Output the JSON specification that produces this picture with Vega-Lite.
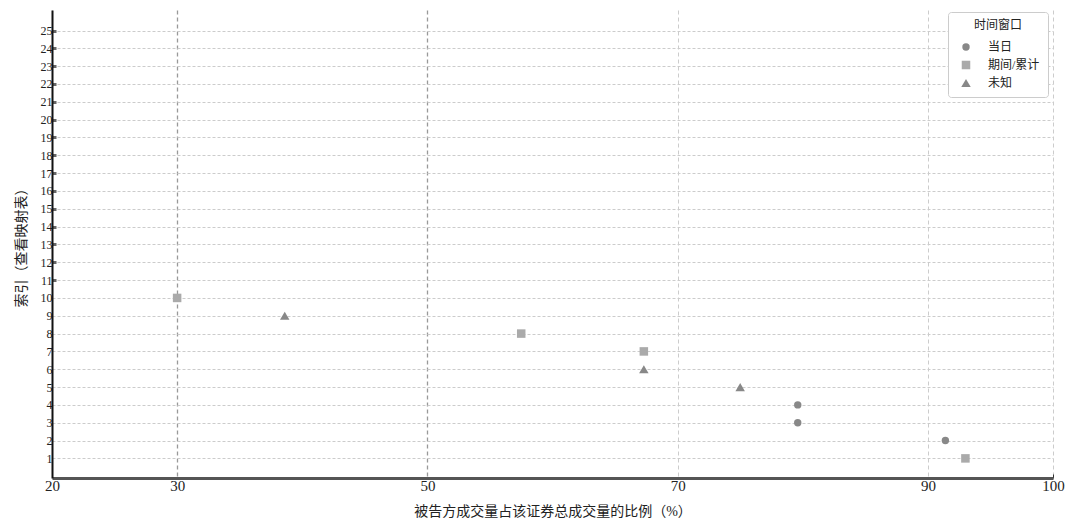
{
  "$schema": "https://vega.github.io/schema/vega-lite/v6.json",
  "width": 1001,
  "height": 468,
  "autosize": {"type": "none"},
  "padding": {"left": 52, "top": 10, "right": 27, "bottom": 46},
  "background": "white",
  "config": {
    "font": "Liberation Serif, Noto Sans CJK SC",
    "view": {"stroke": null}
  },
  "data": {
    "values": [
      {"ratio": 30.0, "idx": 10, "window": "期间/累计"},
      {"ratio": 38.6, "idx": 9, "window": "未知"},
      {"ratio": 57.5, "idx": 8, "window": "期间/累计"},
      {"ratio": 67.3, "idx": 7, "window": "期间/累计"},
      {"ratio": 67.3, "idx": 6, "window": "未知"},
      {"ratio": 75.0, "idx": 5, "window": "未知"},
      {"ratio": 79.6, "idx": 4, "window": "当日"},
      {"ratio": 79.6, "idx": 3, "window": "当日"},
      {"ratio": 91.4, "idx": 2, "window": "当日"},
      {"ratio": 93.0, "idx": 1, "window": "期间/累计"}
    ]
  },
  "mark": {"type": "point", "filled": true, "opacity": 1},
  "encoding": {
    "x": {
      "field": "ratio",
      "type": "quantitative",
      "scale": {"domain": [20, 100], "nice": false, "zero": false},
      "axis": {
        "values": [20, 30, 50, 70, 90, 100],
        "title": "被告方成交量占该证券总成交量的比例（%）",
        "titleFontSize": 14,
        "titleFontWeight": "normal",
        "titleColor": "#222",
        "titlePadding": 11,
        "labelFontSize": 15,
        "labelColor": "#222",
        "labelPadding": 4,
        "labelFlush": false,
        "domainColor": "#555",
        "domainWidth": 3,
        "ticks": true,
        "tickSize": -4,
        "tickColor": {"condition": {"test": "datum.value == 100", "value": "#333"}, "value": "transparent"},
        "grid": true,
        "gridDash": [4, 3],
        "gridColor": {"condition": {"test": "datum.value == 30 || datum.value == 50", "value": "#999"}, "value": "#ccc"},
        "gridWidth": {"condition": {"test": "datum.value == 30 || datum.value == 50", "value": 1.3}, "value": 1}
      }
    },
    "y": {
      "field": "idx",
      "type": "quantitative",
      "scale": {"domain": [-0.1, 26.15], "nice": false, "zero": false},
      "axis": {
        "values": [1,2,3,4,5,6,7,8,9,10,11,12,13,14,15,16,17,18,19,20,21,22,23,24,25],
        "title": "索引（查看映射表）",
        "titleFontSize": 14,
        "titleFontWeight": "normal",
        "titleColor": "#222",
        "titlePadding": 12,
        "labelFontSize": 12,
        "labelColor": "#222",
        "labelPadding": 4,
        "domainColor": "#111",
        "domainWidth": 2,
        "ticks": true,
        "tickSize": -4,
        "tickWidth": 3,
        "tickColor": {"condition": {"test": "datum.value > 10", "value": "#666"}, "value": "transparent"},
        "grid": true,
        "gridDash": [3, 2],
        "gridColor": "#ccc",
        "gridWidth": 1
      }
    },
    "shape": {
      "field": "window",
      "type": "nominal",
      "scale": {"domain": ["当日", "期间/累计", "未知"], "range": ["circle", "square", "triangle-up"]},
      "legend": {
        "title": "时间窗口",
        "orient": "none",
        "legendX": 896,
        "legendY": 2,
        "padding": 8,
        "strokeColor": "#ccc",
        "fillColor": "white",
        "cornerRadius": 3,
        "titleFontSize": 12,
        "titleFontWeight": "normal",
        "titleAnchor": "middle",
        "titleColor": "#222",
        "titlePadding": 9,
        "labelFontSize": 12,
        "labelColor": "#222",
        "labelOffset": 16,
        "rowPadding": 6,
        "symbolSize": 55,
        "symbolOffset": 4
      }
    },
    "color": {
      "field": "window",
      "type": "nominal",
      "scale": {"domain": ["当日", "期间/累计", "未知"], "range": ["#888888", "#aaaaaa", "#888888"]},
      "legend": {
        "title": "时间窗口",
        "orient": "none",
        "legendX": 896,
        "legendY": 2,
        "padding": 8,
        "strokeColor": "#ccc",
        "fillColor": "white",
        "cornerRadius": 3,
        "titleFontSize": 12,
        "titleFontWeight": "normal",
        "titleAnchor": "middle",
        "titleColor": "#222",
        "titlePadding": 9,
        "labelFontSize": 12,
        "labelColor": "#222",
        "labelOffset": 16,
        "rowPadding": 6,
        "symbolSize": 55,
        "symbolOffset": 4
      }
    },
    "size": {
      "field": "window",
      "type": "nominal",
      "scale": {"domain": ["当日", "期间/累计", "未知"], "range": [55, 90, 55]},
      "legend": null
    }
  }
}
